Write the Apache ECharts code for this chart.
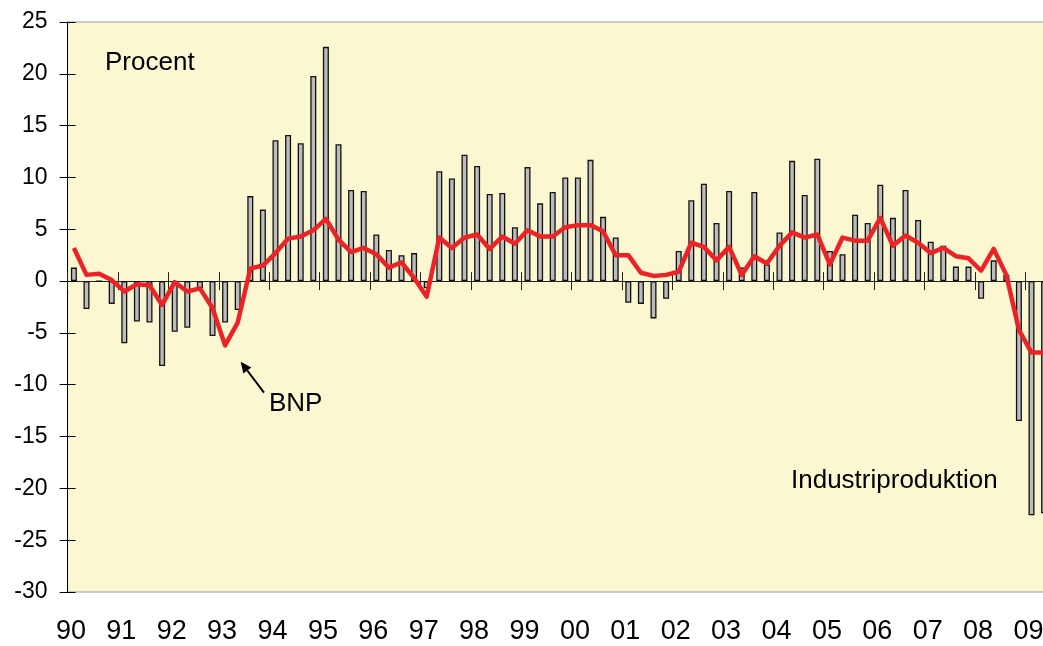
<!DOCTYPE html>
<html>
<head>
<meta charset="utf-8">
<script src="https://cdn.jsdelivr.net/npm/echarts@6/dist/echarts.min.js"></script>
<style>
  html, body { margin: 0; padding: 0; background: #fff; }
  #main { width: 1043px; height: 646px; }
</style>
</head>
<body>
<div id="main"></div>
<script>
// kvartal 1990K1 .. 2009K2
const years = [];
for (let y = 1990; y <= 2009; y++) years.push(y);
const quarters = [];
years.forEach((y) => {
  for (let q = 1; q <= 4; q++) {
    if (y === 2009 && q > 2) break;
    quarters.push(y + "K" + q);
  }
});

// Industriproduktion, årlig förändring i procent (staplar)
const industri = [
  1.3, -2.7, 0, -2.2, -6.0, -3.9, -4.0, -8.2, -4.9, -4.5, -0.7, -5.3,
  -4.0, -2.8, 8.2, 6.9, 13.6, 14.1, 13.3, 19.8, 22.6, 13.2, 8.8, 8.7,
  4.5, 3.0, 2.5, 2.7, -0.7, 10.6, 9.9, 12.2, 11.1, 8.4, 8.5, 5.2,
  11.0, 7.5, 8.6, 10.0, 10.0, 11.7, 6.2, 4.2, -2.1, -2.2, -3.6, -1.7,
  2.9, 7.8, 9.4, 5.6, 8.7, 1.3, 8.6, 1.6, 4.7, 11.6, 8.3, 11.8,
  2.9, 2.6, 6.4, 5.6, 9.3, 6.1, 8.8, 5.9, 3.8, 3.4, 1.4, 1.4,
  -1.7, 2.0, 0.6, -13.5, -22.6, -22.4
];

// BNP, årlig förändring i procent (linje)
const bnp = [
  3.2, 0.6, 0.7, 0.1, -1.0, -0.3, -0.4, -2.3, -0.1, -1.0, -0.7, -2.6,
  -6.2, -4.0, 1.2, 1.5, 2.7, 4.1, 4.3, 4.9, 6.0, 4.0, 2.8, 3.2,
  2.6, 1.3, 1.8, 0.3, -1.5, 4.2, 3.2, 4.2, 4.5, 3.1, 4.3, 3.6,
  4.9, 4.3, 4.3, 5.2, 5.4, 5.4, 4.8, 2.5, 2.5, 0.8, 0.5, 0.6,
  0.9, 3.7, 3.3, 2.0, 3.3, 0.6, 2.4, 1.7, 3.4, 4.7, 4.2, 4.5,
  1.6, 4.2, 3.9, 3.9, 6.1, 3.4, 4.4, 3.7, 2.7, 3.2, 2.4, 2.2,
  1.0, 3.1, 0.6, -4.7, -6.9, -6.9
];

const yMin = -30;
const yMax = 25;
const yStep = 5;

const FONT = "'Liberation Sans', Arial, sans-serif";

const chart = echarts.init(document.getElementById("main"), null, { renderer: "canvas" });

const qw = 12.6; // bredd per kvartal
const catAxis = {
  type: "category",
  data: quarters,
  boundaryGap: true,
  axisLabel: { show: false },
  splitLine: { show: false },
};

chart.setOption({
  animation: false,
  backgroundColor: "#ffffff",
  grid: {
    left: 67.6,
    top: 22,
    width: qw * quarters.length,
    height: 570,
    outerBoundsMode: "none",
    containLabel: false,
    show: true,
    backgroundColor: "#fbf7d1",
    borderColor: "#9a9a9a",
    borderWidth: 1,
  },
  xAxis: [
    // årtal nertill
    Object.assign({}, catAxis, {
      position: "bottom",
      axisLine: { show: false, onZero: false },
      axisTick: { show: false },
      axisLabel: {
        show: true,
        interval: 3,
        margin: 26,
        color: "#000",
        fontFamily: FONT,
        fontSize: 27,
        padding: [0, 6, 0, 0],
        formatter: (v) => v.slice(2, 4),
      },
    }),
    // nollinjen med streck nedåt
    Object.assign({}, catAxis, {
      position: "bottom",
      axisLine: { show: true, onZero: true, onZeroAxisIndex: 0, lineStyle: { color: "#222", width: 1 } },
      axisTick: { show: true, interval: 3, length: 9, lineStyle: { color: "#222", width: 1 } },
    }),
    // streck uppåt
    Object.assign({}, catAxis, {
      position: "top",
      axisLine: { show: false, onZero: true, onZeroAxisIndex: 0 },
      axisTick: { show: true, interval: 3, length: 9, lineStyle: { color: "#222", width: 1 } },
    }),
  ],
  yAxis: [
    {
      type: "value",
      min: yMin,
      max: yMax,
      interval: yStep,
      position: "left",
      axisLine: { show: true, onZero: false, lineStyle: { color: "#000", width: 1 } },
      axisTick: { show: true, length: 8, lineStyle: { color: "#000" } },
      axisLabel: { color: "#000", fontFamily: FONT, fontSize: 23, margin: 20 },
      splitLine: { show: false },
    },
    {
      type: "value",
      min: yMin,
      max: yMax,
      interval: yStep,
      position: "left",
      axisLine: { show: false, onZero: false },
      axisTick: { show: true, inside: true, length: 8, lineStyle: { color: "#000" } },
      axisLabel: { show: false },
      splitLine: { show: false },
    },
  ],
  series: [
    {
      name: "Industriproduktion",
      type: "bar",
      data: industri,
      xAxisIndex: 0,
      yAxisIndex: 0,
      barWidth: 6,
      itemStyle: { color: "#bcbcbc", borderColor: "#111", borderWidth: 1.3 },
    },
    {
      name: "BNP",
      type: "line",
      data: bnp,
      xAxisIndex: 0,
      yAxisIndex: 0,
      showSymbol: false,
      symbol: "none",
      lineStyle: { color: "#ec2227", width: 4.5, join: "round" },
      z: 5,
    },
  ],
  graphic: [
    { type: "text", left: 105, top: 50, style: { text: "Procent", font: "26px " + FONT, fill: "#000" } },
    { type: "text", left: 269, top: 391, style: { text: "BNP", font: "26px " + FONT, fill: "#000" } },
    { type: "text", left: 791, top: 468, style: { text: "Industriproduktion", font: "26px " + FONT, fill: "#000" } },
    {
      type: "line",
      shape: { x1: 264, y1: 392.7, x2: 247.3, y2: 370.5 },
      style: { stroke: "#000", lineWidth: 2 },
    },
    {
      type: "polygon",
      shape: { points: [[240.7, 361.7], [251.3, 367.5], [243.3, 373.5]] },
      style: { fill: "#000" },
    },
  ],
});
</script>
</body>
</html>
